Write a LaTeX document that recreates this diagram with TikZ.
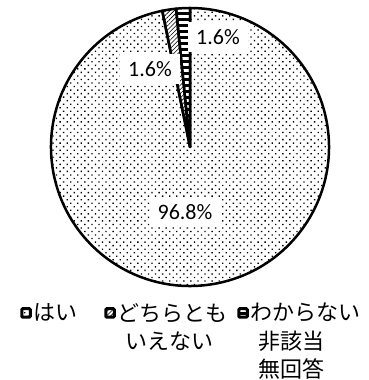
\documentclass[tikz,border=0pt]{standalone}
\usepackage{fontspec}
\setmainfont{Carlito}
\newfontfamily\jpfont{Noto Sans CJK JP}
\usetikzlibrary{patterns.meta, positioning}

\begin{document}
\begin{tikzpicture}[x=1pt, y=1pt,
    font=\fontsize{22}{26}\selectfont,
    punti/.style={pattern={Dots[distance=5pt, radius=0.95pt, angle=45]}},
    righe/.style={pattern={Lines[angle=45, distance=3pt, line width=0.6pt]}},
    strisce/.style={pattern={Lines[angle=0, distance=6pt, line width=3pt]}},
    fetta/.style={draw=black, line width=2.5pt, line join=round},
    etichetta/.style={fill=white, inner xsep=8pt, inner ysep=7pt},
    legbox/.style={draw=black, line width=3pt, minimum size=8.5pt, inner sep=0pt, rounded corners=1pt},
    legtext/.style={font=\jpfont\fontsize{22}{28.5}\selectfont, align=left, inner sep=0pt, anchor=north west}]
    \useasboundingbox (0,0) rectangle (369,380);
    % Parametri
    \pgfmathsetmacro{\raggio}{139}
    \pgfmathsetmacro{\primo}{90+0.016*360}
    \pgfmathsetmacro{\secondo}{90+0.032*360}
    \coordinate (centro) at (190,233);
    % Fette
    \draw[fetta, punti] (centro) -- ++(\secondo:\raggio)
        arc[start angle=\secondo, end angle=450, radius=\raggio] -- cycle;
    \draw[fetta, righe] (centro) -- ++(\primo:\raggio)
        arc[start angle=\primo, end angle=\secondo, radius=\raggio] -- cycle;
    \draw[fetta, strisce] (centro) -- ++(90:\raggio)
        arc[start angle=90, end angle=\primo, radius=\raggio] -- cycle;
    % Percentuali
    \node[etichetta] (p1) at (218,343) {1.6\%};
    \node[etichetta] (p2) at (150,311) {1.6\%};
    \node[etichetta] (p3) at (185,168) {96.8\%};
    % Legenda
    \node[legbox, punti] (k1) at (26,67) {};
    \node[legtext] (t1) at (33,77) {はい};
    \node[legbox, righe] (k2) at (110,67) {};
    \node[legtext] (t2) at (117,77) {どちらとも\\\hspace{8pt}いえない};
    \node[legbox, strisce] (k3) at (243,67) {};
    \node[legtext] (t3) at (250,77) {わからない\\\hspace{8pt}非該当\\\hspace{8pt}無回答};
\end{tikzpicture}
\end{document}
